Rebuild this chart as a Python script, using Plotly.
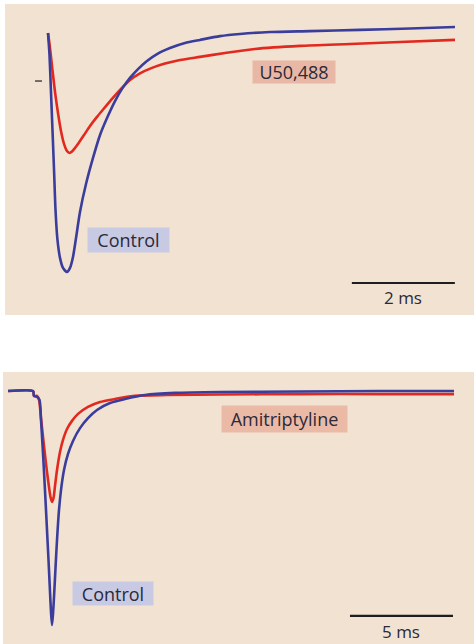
import plotly.graph_objects as go

# ---- Upper recording: U50,488 vs control (time in ms, current normalised to control peak)
top_t_control = [0, 0.029, 0.058, 0.087, 0.117, 0.146, 0.184, 0.233, 0.291, 0.369, 0.427,
                 0.485, 0.544, 0.621, 0.738, 0.874, 1.010, 1.146, 1.301, 1.437, 1.592, 1.748,
                 1.922, 2.117, 2.369, 2.660, 2.951, 3.340, 3.728, 4.311, 5.087, 6.058, 7.029,
                 7.903]
top_i_control = [0, -0.092, -0.247, -0.406, -0.573, -0.741, -0.866, -0.941, -0.983, -1.0, -0.983,
                 -0.937, -0.858, -0.749, -0.632, -0.523, -0.427, -0.356, -0.285, -0.234, -0.188,
                 -0.151, -0.117, -0.088, -0.063, -0.042, -0.029, -0.013, -0.004, 0.004, 0.008,
                 0.013, 0.019, 0.025]

top_t_drug = [0, 0.039, 0.087, 0.136, 0.194, 0.252, 0.311, 0.369, 0.417, 0.466, 0.524, 0.602,
              0.699, 0.816, 0.951, 1.087, 1.243, 1.417, 1.592, 1.786, 2.019, 2.272, 2.563,
              2.951, 3.437, 4.019, 4.893, 5.864, 6.835, 7.903]
top_i_drug = [0, -0.063, -0.155, -0.247, -0.335, -0.410, -0.464, -0.494, -0.502, -0.496, -0.481,
              -0.458, -0.427, -0.389, -0.351, -0.316, -0.276, -0.234, -0.197, -0.169, -0.146,
              -0.128, -0.113, -0.100, -0.084, -0.067, -0.054, -0.046, -0.038, -0.029]

# ---- Lower recording: amitriptyline vs control
bot_t_control = [0, 1.214, 1.262, 1.408, 1.529, 1.602, 1.675, 1.748, 1.820, 1.893, 1.966, 2.039,
                 2.087, 2.136, 2.184, 2.233, 2.306, 2.379, 2.476, 2.573, 2.718, 2.913, 3.155,
                 3.495, 3.883, 4.320, 4.951, 5.680, 6.650, 8.107, 10.291, 14.175, 18.058, 21.650]
bot_i_control = [0.004, 0.004, -0.017, -0.021, -0.034, -0.120, -0.227, -0.343, -0.464, -0.592,
                 -0.721, -0.858, -0.944, -1.0, -0.953, -0.880, -0.755, -0.635, -0.506, -0.421,
                 -0.335, -0.266, -0.210, -0.155, -0.112, -0.077, -0.047, -0.030, -0.013, -0.004,
                 0, 0.002, 0.004, 0.004]

bot_t_drug = [0, 1.214, 1.262, 1.408, 1.505, 1.602, 1.699, 1.796, 1.893, 1.990, 2.063, 2.136,
              2.209, 2.282, 2.379, 2.524, 2.670, 2.864, 3.107, 3.398, 3.883, 4.466, 5.194,
              6.068, 7.718, 10.291, 14.175, 18.058, 21.650]
bot_i_drug = [0.004, 0.004, -0.017, -0.017, -0.034, -0.112, -0.193, -0.270, -0.343, -0.408,
              -0.451, -0.472, -0.455, -0.403, -0.335, -0.258, -0.206, -0.159, -0.124, -0.094,
              -0.064, -0.043, -0.030, -0.017, -0.013, -0.011, -0.009, -0.009, -0.009]

top_labels = ["U50,488", "Control"]
bot_labels = ["Amitriptyline", "Control"]
top_scale_ms = 2
bot_scale_ms = 5

BLUE = "#3a3d9c"
RED = "#e2291f"
BEIGE = "#f2e2d1"
INK = "#2a2a38"
FONT = "Open Sans"

fig = go.Figure()

def trace(x, y, color, xa, ya):
    return go.Scatter(x=x, y=y, mode="lines", xaxis=xa, yaxis=ya,
                      line=dict(color=color, width=2.6, shape="spline", smoothing=0.7),
                      hoverinfo="skip", showlegend=False)

fig.add_trace(trace(top_t_drug, top_i_drug, RED, "x", "y"))
fig.add_trace(trace(top_t_control, top_i_control, BLUE, "x", "y"))
fig.add_trace(trace(bot_t_drug, bot_i_drug, RED, "x2", "y2"))
fig.add_trace(trace(bot_t_control, bot_i_control, BLUE, "x2", "y2"))

hidden = dict(visible=False, fixedrange=True)
fig.update_layout(
    width=474, height=644,
    margin=dict(l=0, r=0, t=0, b=0),
    paper_bgcolor="white",
    plot_bgcolor=BEIGE,
    xaxis=dict(domain=[5 / 474, 1], range=[-0.835, 8.272], **hidden),
    yaxis=dict(domain=[329 / 644, 640 / 644], range=[-1.18, 0.1213], **hidden),
    xaxis2=dict(domain=[3 / 474, 1], range=[-0.243, 22.62], anchor="y2", **hidden),
    yaxis2=dict(domain=[0, 272 / 644], range=[-1.0815, 0.0858], anchor="x2", **hidden),
)

# scale bars
top_bar_x0, top_bar_y = 5.90, -1.046
bot_bar_x0, bot_bar_y = 16.60, -0.961
fig.add_shape(type="line", xref="x", yref="y", x0=top_bar_x0, x1=top_bar_x0 + top_scale_ms,
              y0=top_bar_y, y1=top_bar_y, line=dict(color="#1e1e1e", width=2.2))
fig.add_shape(type="line", xref="x2", yref="y2", x0=bot_bar_x0, x1=bot_bar_x0 + bot_scale_ms,
              y0=bot_bar_y, y1=bot_bar_y, line=dict(color="#1e1e1e", width=2.2))
# small reference tick left of the upper traces
fig.add_shape(type="line", xref="x", yref="y", x0=-0.252, x1=-0.117, y0=-0.201, y1=-0.201,
              line=dict(color="#55504c", width=1.6))

def label(text, x, y, xa, ya, bg, w, h, size=18):
    fig.add_annotation(text=text, x=x, y=y, xref=xa, yref=ya, showarrow=False,
                       font=dict(family=FONT, size=size, color=INK),
                       bgcolor=bg, width=w, height=h, borderpad=0,
                       align="center", valign="middle")

label(top_labels[0], 4.786, -0.163, "x", "y", "#e9b7a5", 82, 22)
label(top_labels[1], 1.563, -0.868, "x", "y", "#c8c9e3", 81, 24)
label(bot_labels[0], 13.42, -0.114, "x2", "y2", "#ebbaa7", 125, 26)
label(bot_labels[1], 5.073, -0.863, "x2", "y2", "#c8c9e3", 80, 23)

label(f"{top_scale_ms} ms", top_bar_x0 + top_scale_ms / 2, -1.105, "x", "y", None, 50, 20, 17)
label(f"{bot_scale_ms} ms", bot_bar_x0 + bot_scale_ms / 2, -1.026, "x2", "y2", None, 50, 20, 17)

fig.write_html("out.html")
